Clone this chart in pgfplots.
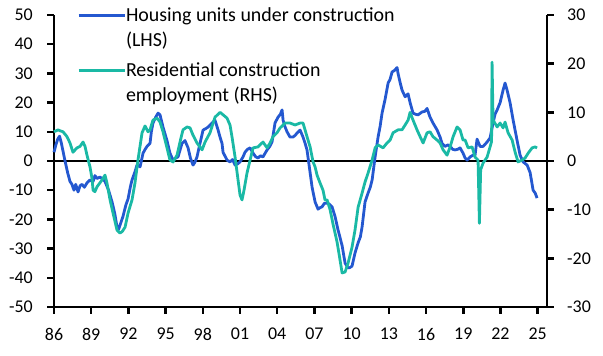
\documentclass[border=0pt]{standalone}
\usepackage{pgfplots}
\pgfplotsset{compat=1.18}
\usepackage{fontspec}
\setmainfont{Carlito}
\definecolor{cblue}{RGB}{36,88,208}
\definecolor{cteal}{RGB}{26,185,165}
\pgfplotsset{
  mybox/.style={
    scale only axis, width=511bp, height=304bp,
    xmin=1985.2743, xmax=2026.4757, clip=false,
    ticklabel style={font=\fontsize{18}{21}\selectfont, inner sep=0pt},
    major tick length=0pt,
    axis line style={draw=none},
  },
  axl/.style={black, line width=2.5bp, forget plot, line join=miter},
}
\begin{document}
\begin{tikzpicture}
\begin{axis}[mybox, name=ax,
  ymin=-53.0822, ymax=51.0274,
  axis x line*=bottom, axis y line*=left,
  axis line style={draw=none},
  xtick={1986,1989,...,2025},
  xticklabels={86,89,92,95,98,01,04,07,10,13,16,19,22,25},
  ytick={-50,-40,...,50},
  yticklabels={-50,-40,-30,-20,-10,0,10,20,30,40,50},
  yticklabel style={anchor=east, xshift=-12bp},
  xticklabel style={anchor=north, yshift=-12bp},
]
% axis frame (left, bottom, right) and ticks, in axis units
\addplot[axl] coordinates {(1986,50) (1986,-50) (2025.75,-50) (2025.75,50)};
\pgfplotsinvokeforeach{1986,1989,1992,1995,1998,2001,2004,2007,2010,2013,2016,2019,2022,2025}{
  \addplot[axl] coordinates {(#1,-50) (#1,-52.4)};
}
\pgfplotsinvokeforeach{-50,-40,-30,-20,-10,0,10,20,30,40,50}{
  \addplot[axl] coordinates {(1986,#1) (1985.436,#1)};
}
\pgfplotsinvokeforeach{-50,-33.333,-16.667,16.667,33.333,50}{
  \addplot[axl] coordinates {(2025.75,#1) (2026.314,#1)};
}
\addplot[axl] coordinates {(2025.75,0) (2026.314,0)};
\addplot[black, line width=2.2bp, forget plot] coordinates {(1986,0) (2025.75,0)};
\addplot[cblue, line width=2.8bp, line join=round] table {
1986.00 3
1986.15 5.5
1986.30 7.5
1986.45 8.5
1986.60 6
1986.89 0
1987.10 -4
1987.29 -7
1987.45 -8
1987.61 -10
1987.75 -8
1987.94 -10.6
1988.10 -8.5
1988.26 -8
1988.45 -9
1988.66 -7.5
1988.90 -6.5
1989.15 -7
1989.30 -5
1989.47 -6
1989.70 -5.5
1989.87 -6
1990.11 -7
1990.40 -10
1990.68 -14
1990.90 -18
1991.08 -22.6
1991.20 -23.5
1991.40 -21
1991.56 -19
1991.80 -15
1991.97 -13
1992.15 -9
1992.29 -6.5
1992.53 -3.7
1992.69 -1.4
1992.94 -2
1993.18 2.7
1993.35 4
1993.50 5
1993.74 6
1993.85 10
1993.98 13
1994.20 15
1994.39 16.4
1994.55 15.8
1994.79 11.6
1995.11 7
1995.35 2.7
1995.60 0.3
1995.80 1
1996.00 1.4
1996.32 6
1996.56 7
1996.81 4.5
1997.00 1
1997.21 -1.4
1997.35 -0.5
1997.53 1.4
1997.77 6
1998.02 10.6
1998.20 11
1998.42 11.6
1998.74 13
1998.98 14
1999.23 10.6
1999.40 8
1999.55 6
1999.63 3
1999.95 0.3
2000.19 -0.3
2000.40 0.5
2000.60 -1.4
2000.80 -1
2001.00 -0.3
2001.24 1.4
2001.40 3
2001.60 4
2001.81 4.5
2002.05 2.7
2002.25 1.5
2002.45 1
2002.65 1.8
2002.85 1.4
2003.00 2.5
2003.18 3.8
2003.40 5
2003.58 6.5
2003.82 13
2004.06 15
2004.25 16
2004.39 17.5
2004.47 14
2004.60 12
2004.79 10
2005.03 8.2
2005.27 8.2
2005.45 8.8
2005.60 9.6
2005.84 10.6
2006.08 8.2
2006.25 6
2006.40 3.8
2006.65 -4
2006.81 -9
2007.05 -14
2007.29 -16.5
2007.45 -16
2007.61 -15.7
2007.80 -14.5
2008.02 -14.4
2008.20 -14.8
2008.42 -15.7
2008.66 -19
2008.90 -23.6
2009.05 -26
2009.23 -29
2009.47 -35
2009.71 -36.6
2009.85 -36.5
2010.03 -36
2010.27 -31.5
2010.52 -28
2010.70 -26
2010.84 -22.6
2011.08 -14
2011.32 -11
2011.50 -9
2011.65 -6.5
2011.89 1.4
2012.13 8.2
2012.30 12
2012.45 16.4
2012.69 21
2012.94 26.7
2013.10 28
2013.26 30.5
2013.45 31
2013.66 32
2013.74 30
2013.90 27
2014.06 24.3
2014.31 22
2014.55 23
2014.71 20
2014.95 16.4
2015.15 16
2015.35 15.8
2015.68 16.8
2015.90 17
2016.08 18
2016.32 15
2016.56 13
2016.89 10.6
2017.13 8.2
2017.29 6
2017.53 5
2017.75 5.5
2017.94 5
2018.15 4
2018.34 3.8
2018.55 4
2018.74 4.5
2018.98 2.7
2019.15 1
2019.31 0.3
2019.55 1.4
2019.79 2
2019.95 2
2020.11 7.5
2020.35 5
2020.60 5
2020.92 6.5
2021.16 7.9
2021.40 13
2021.56 16
2021.73 17.5
2021.97 20
2022.21 24.3
2022.37 26.7
2022.53 24.3
2022.77 20
2023.02 14
2023.34 7
2023.58 2
2023.82 -0.3
2024.15 -1.4
2024.39 -4
2024.63 -10
2024.80 -11
2024.95 -12.7
};
\end{axis}
\begin{axis}[mybox,
  ymin=-31.8493, ymax=30.6164,
  axis x line=none, axis y line*=right,
  axis line style={draw=none},
  ytick={-30,-20,...,30},
  yticklabels={-30,-20,-10,0,10,20,30},
  yticklabel style={anchor=west, xshift=11bp},
  legend style={at={(rel axis cs:0,1)}, anchor=north west, xshift=32bp, yshift=10bp,
    draw=none, fill=none, inner sep=0pt, row sep=0pt, column sep=0pt,
    font=\fontsize{20}{24}\selectfont,
    nodes={inner sep=0pt, text depth=, text height=},
    cells={anchor=base west}},
  legend image code/.code={\draw[#1] (0bp,6bp) -- (41bp,6bp); \path (41bp,6bp) -- (46bp,6bp);},
]
\addlegendimage{cblue, line width=2.8bp}
\addlegendentry{\rule[-6bp]{0pt}{25bp}Housing units under construction}
\addlegendimage{empty legend}
\addlegendentry{\rule[-6bp]{0pt}{25bp}(LHS)}
\addplot[cteal, line width=2.8bp, line join=round] table {
1986.00 6
1986.32 6.4
1986.50 6.2
1986.73 6
1987.05 5
1987.29 3.7
1987.53 1.8
1987.85 2.7
1988.10 3
1988.34 3.9
1988.50 3
1988.66 1.2
1988.90 -1.2
1989.06 -3.5
1989.15 -6
1989.30 -6.3
1989.47 -5.3
1989.70 -4.5
1989.87 -3.9
1990.11 -2.9
1990.27 -4.5
1990.52 -8
1990.76 -10.7
1991.08 -14.2
1991.32 -14.8
1991.50 -14.5
1991.73 -13.6
1991.97 -10.7
1992.29 -8
1992.53 -4.5
1992.77 0.2
1993.10 5.8
1993.34 7.2
1993.58 6
1993.74 6.4
1993.98 8.4
1994.31 8.8
1994.55 8
1994.79 6
1995.11 2.7
1995.35 0.2
1995.60 -0.2
1995.92 1.2
1996.16 3.9
1996.40 6.4
1996.73 7
1996.97 6.8
1997.21 5.3
1997.53 3.7
1997.94 2.3
1998.18 3.9
1998.58 5.8
1998.98 9
1999.39 10
1999.63 9.5
1999.95 8.8
2000.19 7.4
2000.35 5
2000.60 0.8
2000.84 -3.9
2001.00 -7
2001.16 -8
2001.32 -6
2001.56 -2.5
2001.81 0.2
2002.05 2.7
2002.45 2.9
2002.85 3.9
2003.18 2.7
2003.42 3.7
2003.66 5
2003.98 5.8
2004.23 6.8
2004.63 7.8
2005.03 7.8
2005.44 7.4
2005.84 7.8
2006.08 7.8
2006.40 5
2006.65 2.9
2006.81 0.8
2006.89 -0.2
2007.05 -1.2
2007.21 -2.9
2007.45 -4.5
2007.69 -6
2007.85 -8
2008.02 -8
2008.26 -10
2008.50 -13
2008.82 -16.6
2009.06 -20.3
2009.23 -23
2009.47 -22.8
2009.71 -21
2010.03 -17.7
2010.27 -14.2
2010.52 -9.5
2010.84 -6.6
2011.08 -4.3
2011.32 -2.5
2011.65 0.2
2011.89 2.7
2012.13 3.3
2012.53 2.7
2012.85 3.7
2013.10 4.3
2013.34 5.8
2013.74 6.4
2014.06 6.4
2014.31 7.4
2014.55 8.4
2014.71 10
2014.95 8.4
2015.27 6.4
2015.52 5
2015.76 3.7
2016.08 5.8
2016.32 6
2016.56 5
2016.89 4.3
2017.13 3.7
2017.37 2.3
2017.69 1.2
2017.94 2.9
2018.18 5
2018.50 7
2018.74 6.4
2018.98 4.3
2019.15 4.3
2019.39 2.7
2019.71 2.9
2019.95 0.8
2020.19 0.2
2020.30 -12.8
2020.40 -1.8
2020.60 -0.4
2020.92 0.8
2021.16 2.9
2021.28 4
2021.32 20.3
2021.40 8.4
2021.73 7
2021.97 7.8
2022.21 6.8
2022.37 8
2022.61 5.8
2022.94 4.3
2023.18 1.8
2023.42 -0.2
2023.74 0.2
2023.98 0.6
2024.23 1.6
2024.55 2.7
2024.79 2.9
2024.95 2.7
};
\addlegendentry{\rule[-6bp]{0pt}{30bp}Residential construction}
\addlegendimage{empty legend}
\addlegendentry{\rule[-6bp]{0pt}{25bp}employment (RHS)}
\end{axis}
\pgfresetboundingbox
\path ([xshift=-45bp,yshift=-40bp]ax.south west) rectangle ([xshift=47bp,yshift=12bp]ax.north east);
\end{tikzpicture}
\end{document}
